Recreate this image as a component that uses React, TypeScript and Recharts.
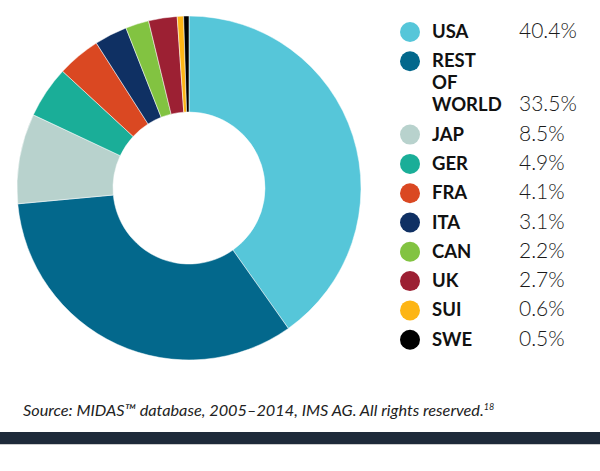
import { PieChart, Pie, Cell, Legend } from 'recharts'

const countries = ['USA', 'REST OF WORLD', 'JAP', 'GER', 'FRA', 'ITA', 'CAN', 'UK', 'SUI', 'SWE']
const shares = [40.4, 33.5, 8.5, 4.9, 4.1, 3.1, 2.2, 2.7, 0.6, 0.5]
const colors = ['#56C6D9', '#03688C', '#B8D2CD', '#1AAE98', '#DA4822', '#0F3063', '#82C341', '#9C2033', '#FDB515', '#000000']
const labelLines: string[][] = [['USA'], ['REST', 'OF', 'WORLD'], ['JAP'], ['GER'], ['FRA'], ['ITA'], ['CAN'], ['UK'], ['SUI'], ['SWE']]
const source = 'Source: MIDAS\u2122 database, 2005\u20132014, IMS AG. All rights reserved.'

const data = countries.map((name, i) => ({ name, value: shares[i] }))

function ShareLegend() {
  let y = 38
  const rows = labelLines.map((lines, i) => {
    const top = y
    const last = y + (lines.length - 1) * 22
    y = last + 29.3
    return (
      <g key={countries[i]}>
        <circle cx={20} cy={top - 6} r={10} fill={colors[i]} />
        {lines.map((ln, j) => (
          <text key={ln} x={42} y={top + j * 22} fontSize={18.5} fontWeight={700} fill="#111" fontFamily="Lato, sans-serif">
            {ln}
          </text>
        ))}
        <text x={129} y={last} fontSize={21} fontWeight={300} fill="#1a1a1a" fontFamily="Lato, sans-serif">
          {shares[i].toFixed(1)}%
        </text>
      </g>
    )
  })
  return (
    <svg width={210} height={380} style={{ position: 'absolute', left: 390, top: 0 }}>
      {rows}
    </svg>
  )
}

export default function App() {
  return (
    <div style={{ position: 'absolute', left: 0, top: 0, width: 600, height: 471, background: '#fff', overflow: 'hidden' }}>
      <PieChart width={600} height={380} margin={{ top: 0, right: 0, bottom: 0, left: 0 }} style={{ position: 'absolute', left: 0, top: 0 }}>
        <Pie
          data={data}
          dataKey="value"
          nameKey="name"
          cx={189}
          cy={188}
          innerRadius={76}
          outerRadius={172}
          startAngle={90}
          endAngle={-270}
          stroke="#fff"
          strokeWidth={0.5}
          isAnimationActive={false}
        >
          {data.map((d, i) => (
            <Cell key={d.name} fill={colors[i]} />
          ))}
        </Pie>
        <Legend content={() => <ShareLegend />} wrapperStyle={{ position: 'absolute', left: 0, top: 0, width: 600, height: 380 }} />
      </PieChart>
      <div
        style={{
          position: 'absolute',
          left: 23,
          top: 397,
          fontFamily: 'Lato, sans-serif',
          fontStyle: 'italic',
          fontSize: 16.3,
          color: '#222',
          whiteSpace: 'nowrap',
          lineHeight: '20px',
        }}
      >
        {source}
        <sup style={{ fontSize: 9 }}>18</sup>
      </div>
      <div style={{ position: 'absolute', left: 0, top: 432, width: 600, height: 12, background: '#1E2A3A' }} />
      <div style={{ position: 'absolute', left: 0, top: 444, width: 600, height: 1, background: '#ccc' }} />
    </div>
  )
}
